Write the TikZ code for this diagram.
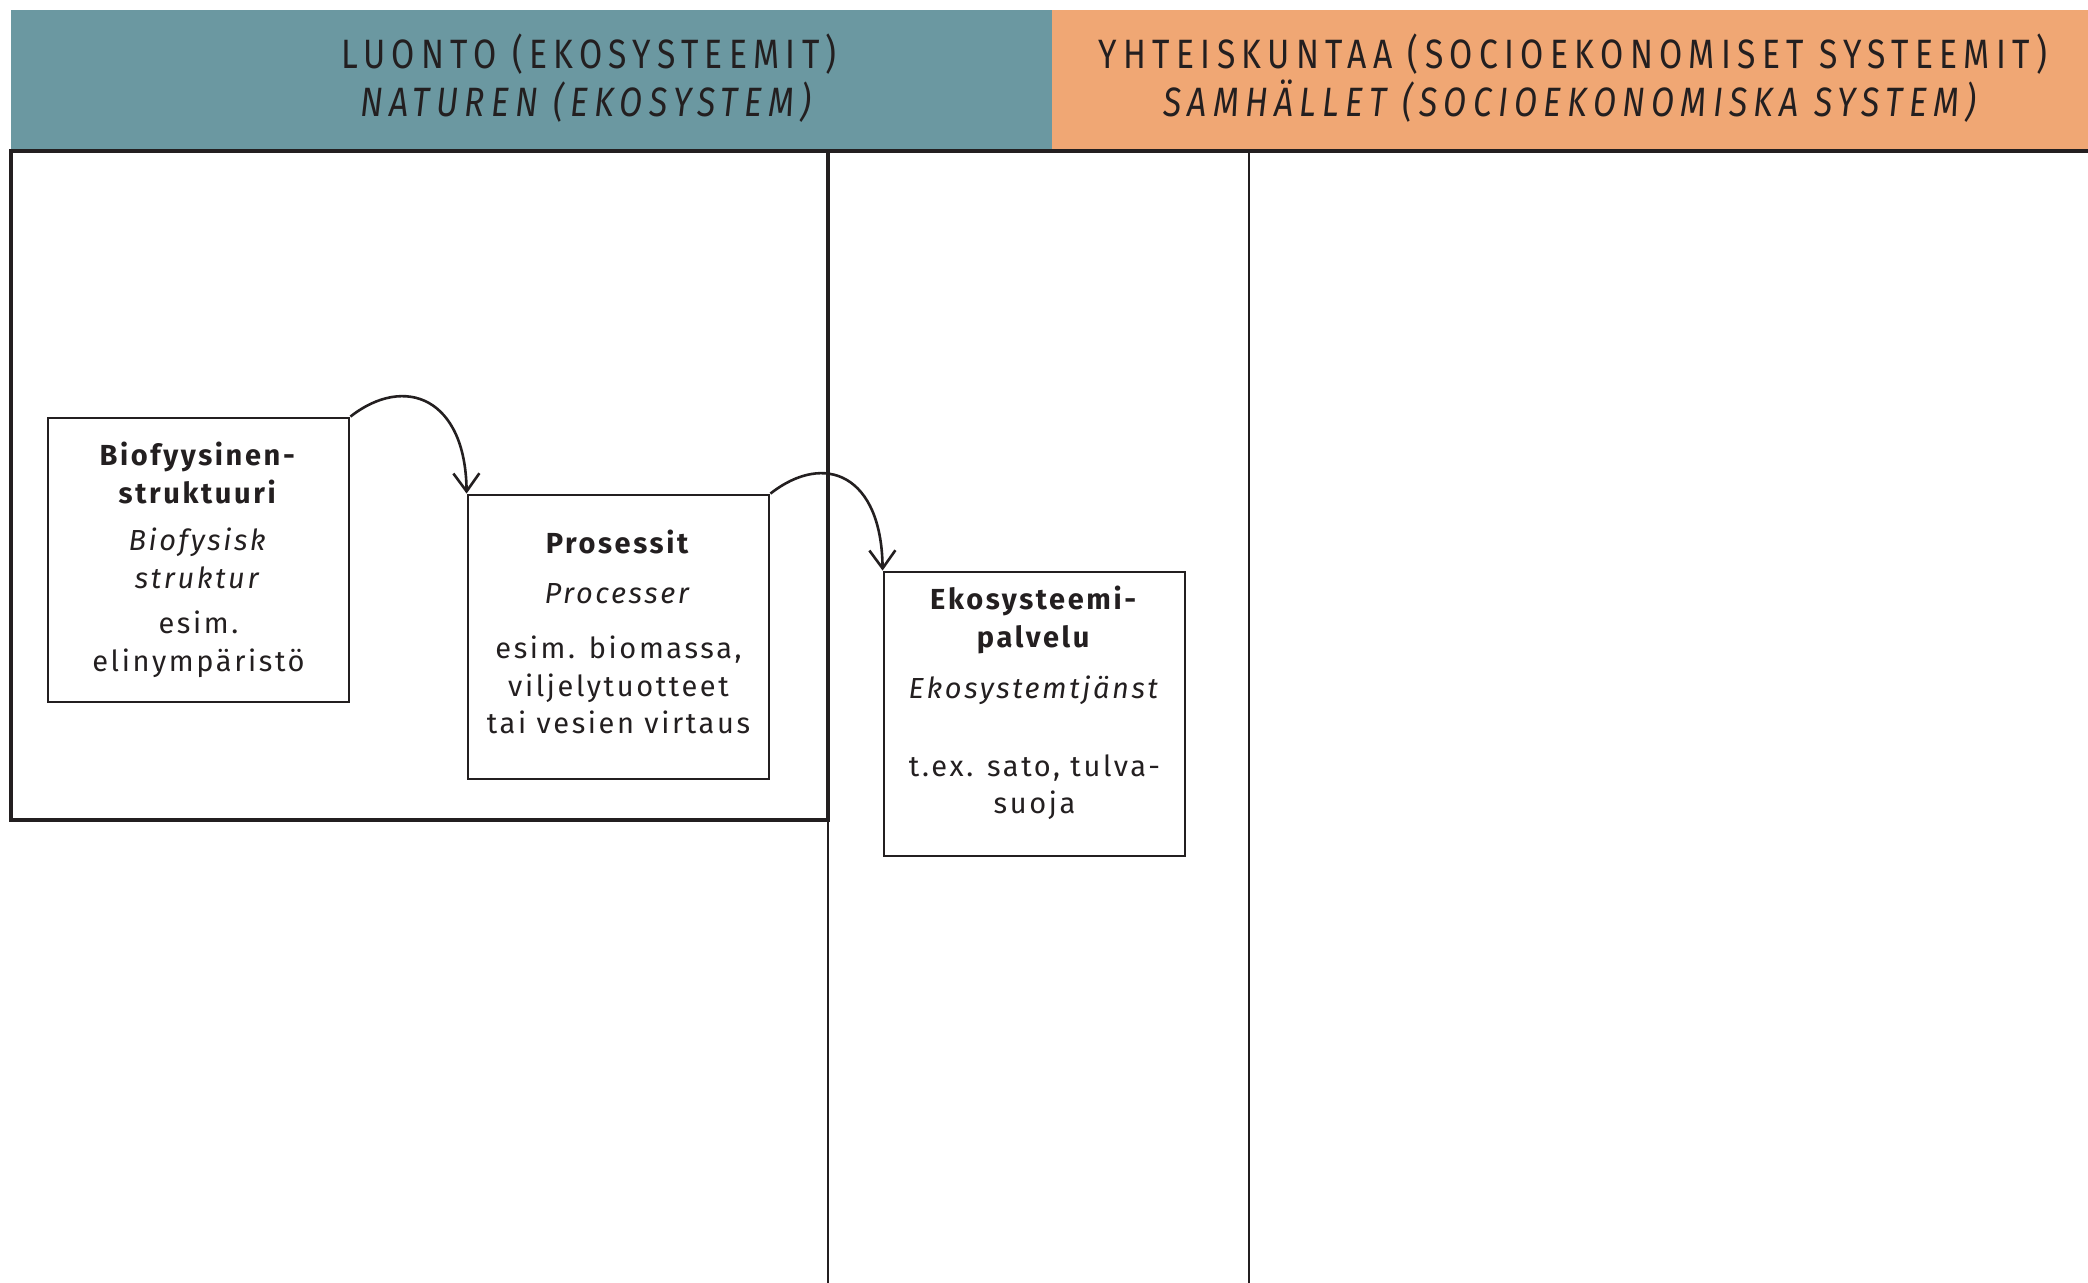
\documentclass[tikz,border=0pt]{standalone}
\usepackage{fontspec}
\setmainfont{Fira Sans}[LetterSpace=9]
\newfontfamily\headfont{Fira Sans}[LetterSpace=15.5,FakeStretch=0.82]
\usetikzlibrary{arrows.meta}
\definecolor{luontoteal}{HTML}{6B98A1}
\definecolor{yhteisorange}{HTML}{F0A774}
\definecolor{inkgray}{HTML}{231F20}

\begin{document}
\begin{tikzpicture}[x=0.5pt, y=-0.5pt,
		header/.style={font=\headfont\fontsize{20.5}{24}\selectfont, text=inkgray, align=center, inner sep=0pt},
		ecobox/.style={draw=inkgray, line width=1.4pt, minimum width=150.5pt, minimum height=142pt, inner sep=0pt, align=center, text=inkgray, font=\fontsize{14.5}{18.75}\selectfont},
		flow/.style={draw=inkgray, line width=1.3pt, line join=miter, -{Straight Barb[length=9pt,width=13pt]}}]
		%%%%% START %%%%%
		
		\useasboundingbox (0, 0) rectangle (2088, 1283);
		
		\fill[luontoteal] (11, 10) rectangle (1052, 151);
		\fill[yhteisorange] (1052, 10) rectangle (2088, 151);
		\node[header] (luonto) at (589, 78) {LUONTO (EKOSYSTEEMIT)\\\textit{NATUREN (EKOSYSTEM)}};
		\node[header] (yhteis) at (1573, 78) {YHTEISKUNTAA (SOCIOEKONOMISET SYSTEEMIT)\\\textit{SAMHÄLLET (SOCIOEKONOMISKA SYSTEM)}};
		
		\draw[line width=1.7pt, color=inkgray] (11, 151) -- (2088, 151);
		\draw[line width=1.7pt, color=inkgray] (11, 151) rectangle (828, 820);
		\draw[line width=1.2pt, color=inkgray] (828, 151) -- (828, 1283);
		\draw[line width=1.2pt, color=inkgray] (1249, 151) -- (1249, 1283);
		
		\node[ecobox] (bio) at (198.5, 560) {\textbf{Biofyysinen-}\\\textbf{struktuuri}\\[5pt]\textit{Biofysisk}\\\textit{struktur}\\[4pt]esim.\\elinympäristö};
		\node[ecobox] (pro) at (618.5, 637) {\textbf{Prosessit}\\[6pt]\textit{Processer}\\[9pt]esim. biomassa,\\viljelytuotteet\\tai vesien virtaus\rule[-5pt]{0pt}{0pt}};
		\node[ecobox] (eko) at (1034.5, 714) {\textbf{Ekosysteemi-}\\\textbf{palvelu}\\[7pt]\textit{Ekosystemtjänst}\\[20pt]t.ex. sato, tulva-\\suoja\rule[-14pt]{0pt}{0pt}};
		
		\draw[flow] (bio.north east) .. controls +(55, -43) and +(-1, -95) .. (pro.north west);
		\draw[flow] (pro.north east) .. controls +(55, -43) and +(-1, -95) .. (eko.north west);
		
		%%%%% END %%%%%
	\end{tikzpicture}
\end{document}
